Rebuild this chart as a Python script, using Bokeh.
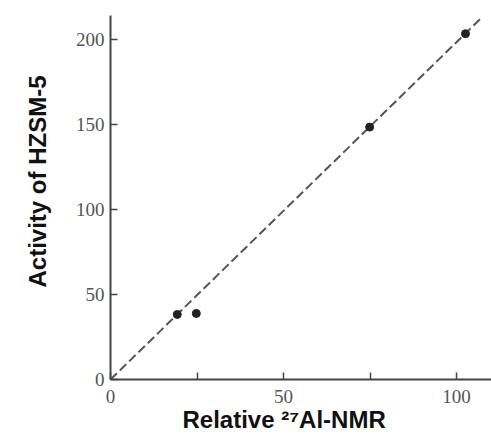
from bokeh.plotting import figure
from bokeh.models import Range1d, FixedTicker, Title
from bokeh.embed import file_html
from bokeh.resources import INLINE

# data
al_nmr = [19.3, 24.8, 74.9, 102.6]
activity = [38.3, 38.9, 148.6, 203.6]
fit_x = [0, 107.5]
fit_y = [0, 213.5]
x_ticks = [0, 25, 50, 75, 100]
x_tick_labels = {0: "0", 25: "", 50: "50", 75: "", 100: "100"}
y_ticks = [0, 50, 100, 150, 200]
x_title = "Relative \u00b2\u2077Al-NMR"
y_title = "Activity of HZSM-5"

W, H = 491, 434
LEFT, TOP, BOTTOM = 110, 15, 379
XS = 3.46
YS = 1.6985
XMAX = (W - LEFT) / XS
YMAX = (BOTTOM - TOP) / YS

p = figure(width=W, height=H, output_backend="svg", toolbar_location=None,
           x_range=Range1d(0, XMAX), y_range=Range1d(0, YMAX))
p.min_border_left = LEFT
p.min_border_right = 0
p.min_border_top = TOP
p.min_border_bottom = H - BOTTOM
p.outline_line_color = None
p.grid.visible = False
p.background_fill_color = "white"
p.border_fill_color = "white"

p.line(fit_x, fit_y, line_color="#555555", line_width=2, line_dash="9 4")
p.scatter(al_nmr, activity, size=8, color="#222222")

for ax in (p.xaxis[0], p.yaxis[0]):
    ax.axis_line_color = "#444444"
    ax.axis_line_width = 2
    ax.major_tick_line_color = "#444444"
    ax.major_tick_line_width = 1.5
    ax.major_tick_out = 0
    ax.major_tick_in = 7
    ax.minor_tick_line_color = None
    ax.major_label_text_font = "Liberation Serif"
    ax.major_label_text_font_size = "19px"
    ax.major_label_text_color = "#555555"

p.xaxis.ticker = FixedTicker(ticks=x_ticks)
p.xaxis.major_label_overrides = x_tick_labels
p.xaxis.major_label_standoff = 10
p.yaxis.ticker = FixedTicker(ticks=y_ticks)
p.yaxis.major_label_standoff = 6

title_style = dict(text_font="Liberation Sans", text_font_style="bold",
                   text_font_size="24px", text_color="#111111")
p.add_layout(Title(text=x_title, align="left", offset=72, standoff=0,
                   vertical_align="top", **title_style), "below")
p.add_layout(Title(text=y_title, align="left", offset=92, standoff=43, **title_style), "left")

open("out.html", "w").write(file_html(p, INLINE))
